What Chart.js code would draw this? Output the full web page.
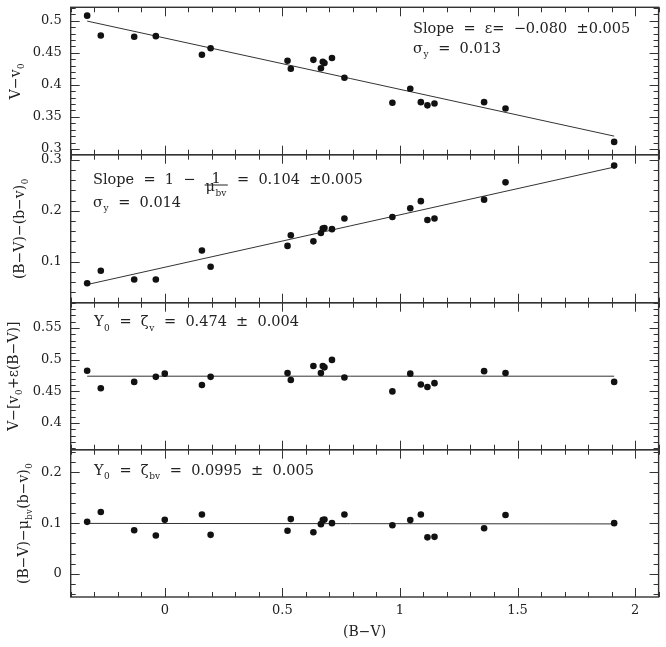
<!DOCTYPE html>
<html>
<head>
<meta charset="utf-8">
<script src="https://cdn.jsdelivr.net/npm/chart.js@4.4.1/dist/chart.umd.min.js"></script>
<style>
  body { margin: 0; background: #fff; }
  #wrap { position: relative; width: 666px; height: 647px; }
  #wrap canvas { position: absolute; left: 0; top: 0; }
</style>
</head>
<body>
<div id="wrap">
  <canvas id="p0" width="666" height="647"></canvas>
  <canvas id="p1" width="666" height="647"></canvas>
  <canvas id="p2" width="666" height="647"></canvas>
  <canvas id="p3" width="666" height="647"></canvas>
</div>
<script>
// (B-V) colour of each star, shared by all four panels
const bvColour = [-0.33, -0.272, -0.13, -0.038, 0.0, 0.158, 0.195, 0.522, 0.536, 0.632, 0.664, 0.672,
                  0.679, 0.711, 0.764, 0.968, 1.044, 1.089, 1.117, 1.147, 1.358, 1.449, 1.911];

// panel values (null = star not shown in that panel)
const vMinusV0 = [0.508, 0.477, 0.475, 0.476, null, 0.447, 0.457, 0.4375, 0.425, 0.439, 0.426, 0.436,
                  0.434, 0.442, 0.411, 0.372, 0.394, 0.373, 0.368, 0.371, 0.373, 0.363, 0.311];
const bvMinusbv0 = [0.0575, 0.082, 0.065, 0.065, null, 0.122, 0.090, 0.131, 0.152, 0.140, 0.1565, 0.165,
                    0.166, 0.164, 0.185, 0.188, 0.205, 0.219, 0.182, 0.185, 0.222, 0.256, 0.289];
const zetaV = [0.4825, 0.455, 0.465, 0.473, 0.478, 0.460, 0.473, 0.479, 0.468, 0.490, 0.479, 0.490,
               0.488, 0.4997, 0.472, 0.450, 0.478, 0.461, 0.457, 0.463, 0.482, 0.479, 0.465];
const zetaBv = [0.1026, 0.122, 0.086, 0.0757, 0.1065, 0.117, 0.077, 0.085, 0.108, 0.082, 0.098, 0.106,
                0.107, 0.100, 0.117, 0.096, 0.106, 0.117, 0.072, 0.073, 0.090, 0.116, 0.100];

// fitted lines, evaluated at the first and last star
const fitX = [-0.33, 1.911];
const fitVMinusV0 = [0.4995, 0.3200];
const fitBvMinusbv0 = [0.055, 0.286];
const fitZetaV = [0.474, 0.474];
const fitZetaBv = [0.0995, 0.0985];

// tick labels
const xTicks = [0, 0.5, 1, 1.5, 2];
const yTicks1 = [0.3, 0.35, 0.4, 0.45, 0.5];
const yTicks2 = [0.1, 0.2, 0.3];
const yTicks3 = [0.4, 0.45, 0.5, 0.55];
const yTicks4 = [0, 0.1, 0.2];

const FONT = '"DejaVu Serif", serif';
const INK = '#222';

// text runs: plain string, [sub] array, or {num, den} fraction
function drawRuns(ctx, runs, x, y, size, dry) {
  let cx = x;
  runs.forEach(r => {
    if (typeof r === 'string') {
      ctx.font = `${size}px ${FONT}`;
      if (!dry) ctx.fillText(r, cx, y);
      cx += ctx.measureText(r).width;
    } else if (Array.isArray(r)) {
      const s = size * 0.62;
      ctx.font = `${s}px ${FONT}`;
      if (!dry) ctx.fillText(r[0], cx + 0.5, y + size * 0.3);
      cx += ctx.measureText(r[0]).width + 1;
    } else {
      const dw = drawRuns(ctx, r.den, 0, 0, size, true);
      ctx.font = `${size}px ${FONT}`;
      const nw = ctx.measureText(r.num).width;
      const w = Math.max(dw, nw) + 2;
      if (!dry) {
        ctx.fillText(r.num, cx + (w - nw) / 2, y - 1);
        ctx.beginPath();
        ctx.lineWidth = 1;
        ctx.moveTo(cx, y + 1.5);
        ctx.lineTo(cx + w, y + 1.5);
        ctx.stroke();
        drawRuns(ctx, r.den, cx + (w - dw) / 2, y + size * 0.55, size, false);
      }
      cx += w;
    }
  });
  return cx - x;
}

const panels = [
  {
    y: vMinusV0, fit: fitVMinusV0, min: 0.291, max: 0.521, ticks: yTicks1, minor: 0.01, major: 0.05,
    top: 7.3, bottom: 154.7,
    title: ['V−v', ['0']], titleX: 15,
    notes: [
      { x: 413, y: 33, runs: ['Slope  =  ε=  −0.080  ±0.005'] },
      { x: 413, y: 53, runs: ['σ', ['y'], '  =  0.013'] },
    ],
  },
  {
    y: bvMinusbv0, fit: fitBvMinusbv0, min: 0.0193, max: 0.3104, ticks: yTicks2, minor: 0.02, major: 0.1,
    top: 154.7, bottom: 302.7,
    title: ['(B−V)−(b−v)', ['0']], titleX: 19,
    notes: [
      { x: 93, y: 183.5, runs: ['Slope  =  1  −  ', { num: '1', den: ['μ', ['bv']] }, '  =  0.104  ±0.005'] },
      { x: 93, y: 207, runs: ['σ', ['y'], '  =  0.014'] },
    ],
  },
  {
    y: zetaV, fit: fitZetaV, min: 0.358, max: 0.590, ticks: yTicks3, minor: 0.01, major: 0.05,
    top: 302.7, bottom: 449.7,
    title: ['V−[v', ['0'], '+ε(B−V)]'], titleX: 13,
    notes: [
      { x: 94, y: 326.3, runs: ['Y', ['0'], '  =  ζ', ['v'], '  =  0.474  ±  0.004'] },
    ],
  },
  {
    y: zetaBv, fit: fitZetaBv, min: -0.0454, max: 0.2446, ticks: yTicks4, minor: 0.02, major: 0.1,
    top: 449.7, bottom: 597,
    title: ['(B−V)−μ', ['bv'], '(b−v)', ['0']], titleX: 23,
    notes: [
      { x: 94, y: 474.5, runs: ['Y', ['0'], '  =  ζ', ['bv'], '  =  0.0995  ±  0.005'] },
    ],
  },
];

const panelDecor = {
  id: 'panelDecor',
  afterDraw(chart, args, opts) {
    const p = panels[opts.key];
    const ctx = chart.ctx;
    const a = chart.chartArea;
    const xs = chart.scales.x, ys = chart.scales.y;
    ctx.save();
    ctx.strokeStyle = '#333';
    ctx.fillStyle = INK;

    // inward tick marks on all four sides
    ctx.lineWidth = 1;
    ctx.beginPath();
    for (let i = Math.ceil(xs.min * 10 - 1e-6); i <= Math.floor(xs.max * 10 + 1e-6); i++) {
      const px = Math.round(xs.getPixelForValue(i / 10)) + 0.5;
      const len = i % 5 === 0 ? 9 : 5;
      ctx.moveTo(px, a.top); ctx.lineTo(px, a.top + len);
      ctx.moveTo(px, a.bottom); ctx.lineTo(px, a.bottom - len);
    }
    const nMin = Math.ceil(ys.min / p.minor - 1e-6), nMax = Math.floor(ys.max / p.minor + 1e-6);
    const per = Math.round(p.major / p.minor);
    for (let i = nMin; i <= nMax; i++) {
      const py = Math.round(ys.getPixelForValue(i * p.minor)) + 0.5;
      const len = i % per === 0 ? 9 : 5;
      ctx.moveTo(a.left, py); ctx.lineTo(a.left + len, py);
      ctx.moveTo(a.right, py); ctx.lineTo(a.right - len, py);
    }
    ctx.stroke();

    // frame
    ctx.lineWidth = 1.4;
    ctx.strokeRect(a.left, a.top, a.right - a.left, a.bottom - a.top);

    // notes inside the panel
    ctx.textBaseline = 'alphabetic';
    ctx.textAlign = 'left';
    ctx.lineWidth = 1;
    ctx.strokeStyle = INK;
    p.notes.forEach(n => drawRuns(ctx, n.runs, n.x, n.y, 14.5, false));

    // rotated y-axis title
    const w = drawRuns(ctx, p.title, 0, 0, 14, true);
    ctx.translate(p.titleX, (a.top + a.bottom) / 2);
    ctx.rotate(-Math.PI / 2);
    drawRuns(ctx, p.title, -w / 2, 5, 14, false);
    ctx.restore();
  }
};

function makePanel(key) {
  const p = panels[key];
  const last = key === panels.length - 1;
  const pts = [];
  bvColour.forEach((x, i) => { if (p.y[i] !== null) pts.push({ x: x, y: p.y[i] }); });

  return new Chart(document.getElementById('p' + key), {
    type: 'scatter',
    data: {
      datasets: [
        {
          data: pts,
          pointRadius: 3.3,
          pointBackgroundColor: '#111',
          pointBorderWidth: 0,
        },
        {
          data: fitX.map((x, i) => ({ x: x, y: p.fit[i] })),
          showLine: true,
          pointRadius: 0,
          borderColor: '#333',
          borderWidth: 1,
        },
      ],
    },
    options: {
      responsive: false,
      animation: false,
      events: [],
      layout: { padding: { top: p.top, bottom: last ? 0 : 647 - p.bottom, left: 0, right: 7.4 } },
      plugins: { legend: { display: false }, tooltip: { enabled: false }, panelDecor: { key: key } },
      scales: {
        x: {
          display: last,
          min: -0.4,
          max: 2.1,
          afterBuildTicks: s => { s.ticks = xTicks.map(v => ({ value: v })); },
          afterFit: s => {
            if (!last) return;
            s.height = 647 - p.bottom; s.paddingLeft = 0; s.paddingRight = 0;
          },
          grid: { display: false, drawTicks: false },
          border: { display: false },
          ticks: { font: { family: FONT, size: 13 }, color: INK, padding: 6, maxRotation: 0, callback: v => String(v) },
          title: { display: true, text: '(B−V)', font: { family: FONT, size: 14 }, color: INK, padding: { top: 0, bottom: 6 } },
        },
        y: {
          min: p.min,
          max: p.max,
          afterBuildTicks: s => { s.ticks = p.ticks.map(v => ({ value: v })); },
          afterFit: s => { s.width = 70.7; s.paddingTop = 0; s.paddingBottom = 0; },
          grid: { display: false, drawTicks: false },
          border: { display: false },
          ticks: { font: { family: FONT, size: 13 }, color: INK, padding: 9, callback: v => String(v) },
        },
      },
    },
    plugins: [panelDecor],
  });
}

panels.forEach((p, i) => makePanel(i));
</script>
</body>
</html>
